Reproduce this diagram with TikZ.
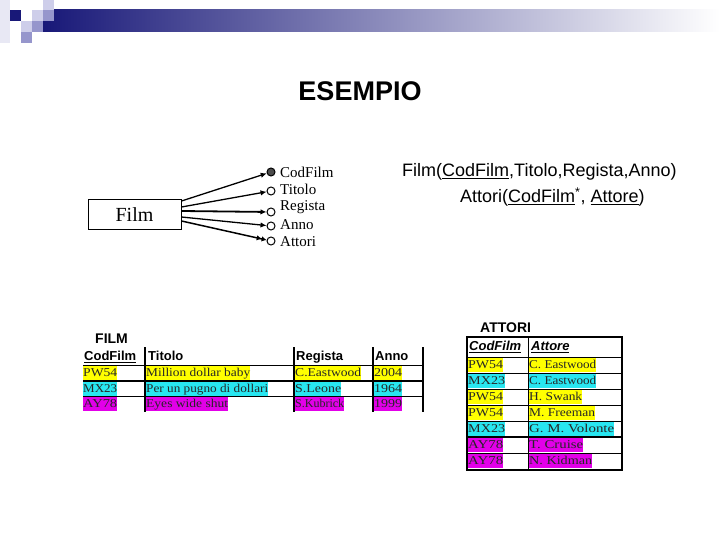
\documentclass[tikz,border=0pt]{standalone}
\usepackage{fontspec}
\usepackage{graphicx}
\setmainfont{Liberation Sans}
\newfontfamily\serifLS{Liberation Serif}
\usetikzlibrary{arrows.meta}
\definecolor{navyb}{RGB}{24,24,120}
\definecolor{midb}{RGB}{172,172,196}
\definecolor{sqlight}{RGB}{206,206,234}
\definecolor{sqmed}{RGB}{150,150,204}
\definecolor{sqpale}{RGB}{232,232,244}
\definecolor{hlY}{RGB}{255,255,0}
\definecolor{hlC}{RGB}{40,230,240}
\definecolor{hlM}{RGB}{226,0,232}
\newcommand\hcell[2]{\resizebox{#1pt}{\height}{#2}}
\begin{document}
\begin{tikzpicture}[x=1pt,y=-1pt,
  hl/.style={fill=#1, anchor=west, inner xsep=0pt, inner ysep=1pt, text height=9.5pt, text depth=2.5pt, minimum height=14pt, text=black!85, font=\serifLS\fontsize{12}{12}\selectfont},
  hdr/.style={anchor=west, inner sep=0pt, text height=9.5pt, text depth=3pt, font=\bfseries\fontsize{13}{13}\selectfont},
  lbl/.style={anchor=west, inner sep=0pt, font=\bfseries\fontsize{14}{14}\selectfont},
  attr/.style={circle, draw, line width=1pt, minimum size=8pt, inner sep=0pt, fill=white},
  lab/.style={anchor=west, inner sep=0pt, font=\serifLS\fontsize{15}{15}\selectfont},
  conn/.style={line width=1.3pt, -{Latex[length=6pt,width=5.5pt]}},
  rel/.style={anchor=west, inner sep=0pt, font=\fontsize{18}{18}\selectfont}
]
\useasboundingbox (0,0) rectangle (720,540);
% header
\shade[left color=navyb, middle color=midb, right color=white] (43,10) rectangle (720,32);
\fill[sqpale] (0,0) rectangle (10,43);
\fill[navyb] (10,10) rectangle (21,21);
\fill[sqlight] (32,10) rectangle (43,21);
\fill[sqlight] (43,0) rectangle (54,10);
\fill[sqmed] (43,10) rectangle (54,21);
\fill[sqlight] (21,21) rectangle (32,32);
\fill[sqmed] (32,21) rectangle (43,32);
\fill[sqmed] (21,32) rectangle (32,43);
% title
\node[font=\bfseries\fontsize{27}{27}\selectfont] (title) at (360,91) {ESEMPIO};
% entity
\node[draw, line width=1pt, minimum width=93pt, minimum height=30pt, inner sep=0pt, font=\serifLS\fontsize{20}{20}\selectfont] (film) at (134.5,215) {Film};
\node[attr, fill=black!70] (aCod) at (271,172) {};
\node[attr] (aTit) at (271,191) {};
\node[attr] (aReg) at (271,212) {};
\node[attr] (aAnn) at (271,226) {};
\node[attr] (aAtt) at (271,241) {};
\node[lab] (lCod) at (280,172) {CodFilm};
\node[lab] (lTit) at (280,189) {Titolo};
\node[lab] (lReg) at (280,207) {Regista};
\node[lab] (lAnn) at (280,225) {Anno};
\node[lab] (lAtt) at (280,242) {Attori};
\draw[conn] ([yshift=14pt]film.east) -- (aCod);
\draw[conn] ([yshift=8pt]film.east) -- (aTit);
\draw[conn, line width=1.8pt] ([yshift=4pt]film.east) -- (aReg);
\draw[conn] ([yshift=-2pt]film.east) -- (aAnn);
\draw[line width=1.5pt, -{Latex[length=5pt,width=5.5pt] Latex[length=5pt,width=5.5pt]}] ([yshift=-6pt]film.east) -- (aAtt);
% relations
\node[rel] (rel1) at (402,172) {Film(\underline{CodFilm},Titolo,Regista,Anno)};
\node[rel] (rel2) at (460,197) {Attori(\underline{CodFilm}\textsuperscript{*}, \underline{Attore})};
% FILM table
\node[lbl] (filmlbl) at (95,339) {FILM};
\node[hdr] (hCod) at (84,357) {\underline{CodFilm}};
\node[hdr] (hTit) at (148,357) {Titolo};
\node[hdr] (hReg) at (296,357) {Regista};
\node[hdr] (hAnn) at (375,357) {Anno};
\node[hl=hlY] (f1a) at (83,373) {\hcell{34}{PW54}};
\node[hl=hlY] (f1b) at (146,373) {\hcell{104}{Million dollar baby}};
\node[hl=hlY] (f1c) at (295,373) {\hcell{66}{C.Eastwood}};
\node[hl=hlY] (f1d) at (374,373) {\hcell{28}{2004}};
\node[hl=hlC] (f2a) at (83,389) {\hcell{34}{MX23}};
\node[hl=hlC] (f2b) at (146,389) {\hcell{122}{Per un pugno di dollari}};
\node[hl=hlC] (f2c) at (295,389) {\hcell{46}{S.Leone}};
\node[hl=hlC] (f2d) at (374,389) {\hcell{28}{1964}};
\node[hl=hlM] (f3a) at (83,404) {\hcell{34}{AY78}};
\node[hl=hlM] (f3b) at (146,404) {\hcell{82}{Eyes wide shut}};
\node[hl=hlM] (f3c) at (295,404) {\hcell{49}{S.Kubrick}};
\node[hl=hlM] (f3d) at (374,404) {\hcell{28}{1999}};
\draw[line width=1.5pt] (145,347) -- (145,412) (294,347) -- (294,412) (373,347) -- (373,412) (423,347) -- (423,412);
\draw[line width=1pt] (83,365) -- (423,365) (83,396) -- (423,396);
\draw[line width=2pt] (83,381) -- (423,381);
% ATTORI table
\node[lbl] (attlbl) at (480,328) {ATTORI};
\node[hdr, font=\bfseries\itshape\fontsize{13}{13}\selectfont] (hC2) at (469,347) {\underline{CodFilm}};
\node[hdr, font=\bfseries\itshape\fontsize{13}{13}\selectfont] (hAt) at (531,347) {\underline{Attore}};
\node[hl=hlY] (a1a) at (468,365) {\hcell{35}{PW54}};
\node[hl=hlY] (a1b) at (529,365) {\hcell{67}{C. Eastwood}};
\node[hl=hlC] (a2a) at (468,381) {\hcell{37}{MX23}};
\node[hl=hlC] (a2b) at (529,381) {\hcell{67}{C. Eastwood}};
\node[hl=hlY] (a3a) at (468,397) {\hcell{35}{PW54}};
\node[hl=hlY] (a3b) at (529,397) {\hcell{53}{H. Swank}};
\node[hl=hlY] (a4a) at (468,413) {\hcell{35}{PW54}};
\node[hl=hlY] (a4b) at (529,413) {\hcell{66}{M. Freeman}};
\node[hl=hlC] (a5a) at (468,429) {\hcell{37}{MX23}};
\node[hl=hlC] (a5b) at (529,429) {\hcell{85}{G. M. Volonte}};
\node[hl=hlM] (a6a) at (468,445) {\hcell{35}{AY78}};
\node[hl=hlM] (a6b) at (529,445) {\hcell{54}{T. Cruise}};
\node[hl=hlM] (a7a) at (468,461) {\hcell{35}{AY78}};
\node[hl=hlM] (a7b) at (529,461) {\hcell{63}{N. Kidman}};
\draw[line width=1.3pt] (467,337) rectangle (622,470);
\draw[line width=1pt] (528,337) -- (528,470);
\draw[line width=1pt] (467,357) -- (622,357);
\draw[line width=0.8pt] (467,373) -- (622,373) (467,389) -- (622,389) (467,405) -- (622,405) (467,421) -- (622,421) (467,453) -- (622,453);
\draw[line width=2pt] (467,437) -- (622,437);
\end{tikzpicture}
\end{document}
